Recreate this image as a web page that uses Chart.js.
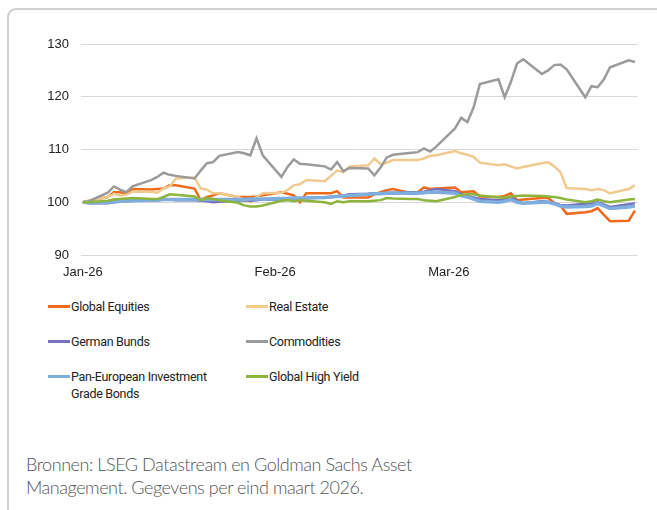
<!DOCTYPE html>
<html>
<head>
<meta charset="utf-8">
<script src="https://cdn.jsdelivr.net/npm/chart.js@4.4.1/dist/chart.umd.min.js"></script>
<style>
body { margin: 0; background: #fff; width: 657px; height: 510px; overflow: hidden; position: relative; font-family: "Liberation Sans", sans-serif; }
#kader { position: absolute; left: 7px; top: 8px; width: 665px; height: 540px; border: 2px solid #cfcfcf; border-radius: 9px; box-sizing: border-box; }
#grafiek { position: absolute; left: 0; top: 0; }
.item { position: absolute; font-family: "Roboto", sans-serif; font-size: 12.5px; letter-spacing: -0.3px; color: #222; line-height: 17px; }
.item i { position: absolute; left: -23px; top: 7px; width: 22px; height: 3px; }
#bron { position: absolute; left: 26px; top: 453px; font-family: Lato, sans-serif; font-weight: 300; font-size: 18px; letter-spacing: -0.45px; color: #555; line-height: 23px; }
</style>
</head>
<body>
<div id="kader"></div>
<canvas id="grafiek" width="657" height="290"></canvas>
<div id="legenda"></div>
<div id="bron">Bronnen: LSEG Datastream en Goldman Sachs Asset<br>Management. Gegevens per eind maart 2026.</div>
<script>
//--------------------------------------------------
// DATA (dagen sinds 1 jan 2026, alleen handelsdagen)
//--------------------------------------------------
const handelsdagen = [0, 1, 4, 5, 6, 7, 8, 11, 12, 13, 14, 15, 18, 19, 20, 21, 22, 25, 26, 27, 28, 29,
    32, 33, 34, 35, 36, 39, 40, 41, 42, 43, 46, 47, 48, 49, 50, 53, 54, 55, 56, 57,
    60, 61, 62, 63, 64, 67, 68, 69, 70, 71, 74, 75, 76, 77, 78, 81, 82, 83, 84, 85, 88, 89];

const maandTicks = [0, 31, 59];
const maandLabels = ["Jan-26", "Feb-26", "Mar-26"];
const yTicks = [90, 100, 110, 120, 130];

const reeksNamen = ["Global Equities", "Real Estate", "German Bunds", "Commodities",
    "Pan-European Investment Grade Bonds", "Global High Yield"];
const reeksKleuren = ["#ee6a1c", "#f0ca8f", "#7571bb", "#9b9b9b", "#7eaede", "#8db53d"];

const globalEquities = [100, 100.3, 101.0, 101.9, 101.9, 101.7, 102.5, 102.4, 102.5, 102.6, 103.2, 103.2, 102.6, 100.4, 101.0, 101.3, 101.7, 101.0, 101.0, 101.0, 101.1, 101.3,
    101.9, 101.6, 101.3, 100.0, 101.7, 101.7, 101.7, 102.1, 100.9, 100.9, 100.9, 101.5, 101.9, 102.3, 102.5, 101.7, 101.9, 102.8, 102.5, 102.6,
    102.8, 101.9, 102.0, 102.1, 101.1, 101.0, 101.2, 101.7, 100.4, 100.5, 100.8, 100.8, 99.9, 99.4, 97.8, 98.1, 98.3, 98.9, 97.6, 96.4, 96.5, 98.4];
const realEstate = [100, 100.3, 101.0, 101.6, 101.3, 101.4, 102.0, 102.0, 101.8, 102.6, 103.0, 104.5, 104.7, 102.6, 102.4, 101.7, 101.7, 101.0, 100.5, 100.0, 101.0, 101.7,
    101.8, 102.3, 103.2, 103.4, 104.2, 104.0, 105.0, 106.0, 105.7, 106.8, 107.0, 108.3, 107.2, 107.5, 108.0, 108.0, 108.0, 108.3, 108.8, 108.9,
    109.7, 109.3, 109.0, 108.6, 107.5, 107.0, 107.2, 106.8, 106.4, 106.7, 107.4, 107.6, 106.8, 105.7, 102.7, 102.5, 102.3, 102.5, 102.3, 101.7, 102.5, 103.2];
const germanBunds = [100, 99.8, 99.8, 100.0, 100.1, 100.2, 100.3, 100.4, 100.4, 100.5, 100.5, 100.4, 100.4, 100.3, 100.2, 100.0, 100.1, 100.3, 100.4, 100.3, 100.4, 100.5,
    100.5, 100.6, 100.7, 100.7, 100.8, 100.9, 101.0, 101.1, 101.3, 101.5, 101.6, 101.7, 101.7, 101.8, 101.8, 101.9, 101.9, 102.0, 102.3, 102.5,
    102.1, 101.6, 101.2, 100.9, 100.6, 100.4, 100.6, 101.0, 100.3, 99.8, 100.2, 100.1, 99.8, 99.5, 99.4, 99.7, 99.8, 100.0, 99.6, 99.1, 99.6, 99.8];
const commodities = [100, 100.2, 101.8, 103.0, 102.4, 101.9, 103.0, 104.2, 104.8, 105.6, 105.2, 105.0, 104.5, 106.0, 107.4, 107.6, 108.8, 109.5, 109.3, 108.9, 112.1, 108.9,
    104.8, 106.7, 108.1, 107.3, 107.2, 106.8, 106.2, 107.6, 105.9, 106.5, 106.4, 105.1, 106.6, 108.5, 109.0, 109.4, 109.5, 110.2, 109.6, 110.6,
    114.0, 116.0, 115.2, 118.0, 122.4, 123.3, 119.9, 122.8, 126.3, 127.1, 124.3, 125.0, 126.0, 126.1, 125.2, 119.9, 122.0, 121.8, 123.3, 125.6, 126.9, 126.6];
const panEuropeanIG = [100, 99.9, 100.0, 100.1, 100.2, 100.3, 100.3, 100.4, 100.4, 100.5, 100.5, 100.5, 100.5, 100.5, 100.5, 100.5, 100.5, 100.5, 100.5, 100.6, 100.6, 100.6,
    100.7, 100.7, 100.8, 100.8, 100.8, 100.9, 101.0, 101.1, 101.2, 101.3, 101.5, 101.6, 101.6, 101.7, 101.7, 101.7, 101.7, 101.8, 101.9, 101.9,
    101.7, 101.2, 101.0, 100.6, 100.2, 100.0, 100.2, 100.5, 100.0, 99.8, 100.0, 100.0, 99.7, 99.3, 99.1, 99.2, 99.3, 99.8, 99.3, 98.8, 99.1, 99.3];
const globalHighYield = [100, 100.0, 100.3, 100.5, 100.6, 100.7, 100.8, 100.6, 100.6, 101.0, 101.5, 101.4, 101.1, 100.4, 100.8, 100.6, 100.4, 99.9, 99.4, 99.2, 99.2, 99.4,
    100.3, 100.4, 100.2, 100.4, 100.3, 100.0, 99.7, 100.2, 100.0, 100.2, 100.2, 100.3, 100.4, 100.8, 100.7, 100.6, 100.6, 100.4, 100.3, 100.2,
    101.0, 101.4, 101.5, 101.5, 101.3, 100.9, 100.9, 101.1, 101.2, 101.3, 101.2, 101.1, 101.0, 100.8, 100.5, 100.0, 100.2, 100.5, 100.2, 100.0, 100.5, 100.6];

const reeksWaarden = [globalEquities, realEstate, germanBunds, commodities, panEuropeanIG, globalHighYield];
const lijnDiktes = [2.5, 2.5, 2.5, 2.5, 3.5, 2.5];

//--------------------------------------------------
// GRAFIEK
//--------------------------------------------------
const datasets = reeksNamen.map((naam, i) => ({
    label: naam,
    data: handelsdagen.map((d, j) => ({ x: d, y: reeksWaarden[i][j] })),
    borderColor: reeksKleuren[i],
    borderWidth: lijnDiktes[i],
    pointRadius: 0,
    tension: 0,
    order: reeksNamen.length - i
}));

new Chart(document.getElementById("grafiek"), {
    type: "line",
    data: { datasets },
    options: {
        responsive: false,
        animation: false,
        layout: { padding: { left: 0, right: 19, top: 44, bottom: 10 } },
        plugins: { legend: { display: false }, tooltip: { enabled: false } },
        scales: {
            x: {
                type: "linear",
                min: -0.3,
                max: 89.5,
                afterBuildTicks: s => { s.ticks = maandTicks.map(v => ({ value: v })); },
                afterFit: s => { s.height = 25; },
                grid: { display: false, drawTicks: false },
                border: { display: false },
                ticks: {
                    padding: 10,
                    maxRotation: 0,
                    autoSkip: false,
                    color: "#222",
                    font: { family: "Liberation Sans", size: 13 },
                    callback: v => maandLabels[maandTicks.indexOf(v)]
                }
            },
            y: {
                min: yTicks[0],
                max: yTicks[yTicks.length - 1],
                afterBuildTicks: s => { s.ticks = yTicks.map(v => ({ value: v })); },
                afterFit: s => { s.width = 81; },
                grid: { color: "#d9d9d9", lineWidth: 1, drawTicks: false },
                border: { display: false },
                ticks: {
                    padding: 12,
                    color: "#222",
                    font: { family: "Liberation Sans", size: 13 }
                }
            }
        }
    }
});

//--------------------------------------------------
// LEGENDA (twee kolommen)
//--------------------------------------------------
const legenda = document.getElementById("legenda");
const legPos = [[71, 298], [269, 298], [71, 333], [269, 333], [71, 368], [269, 368]];
const legTekst = ["Global Equities", "Real Estate", "German Bunds", "Commodities",
    "Pan-European Investment<br>Grade Bonds", "Global High Yield"];
legTekst.forEach((t, i) => {
    const el = document.createElement("div");
    el.className = "item";
    el.style.left = legPos[i][0] + "px";
    el.style.top = legPos[i][1] + "px";
    el.innerHTML = `<i style="background:${reeksKleuren[i]}"></i>${t}`;
    legenda.appendChild(el);
});
</script>
</body>
</html>
